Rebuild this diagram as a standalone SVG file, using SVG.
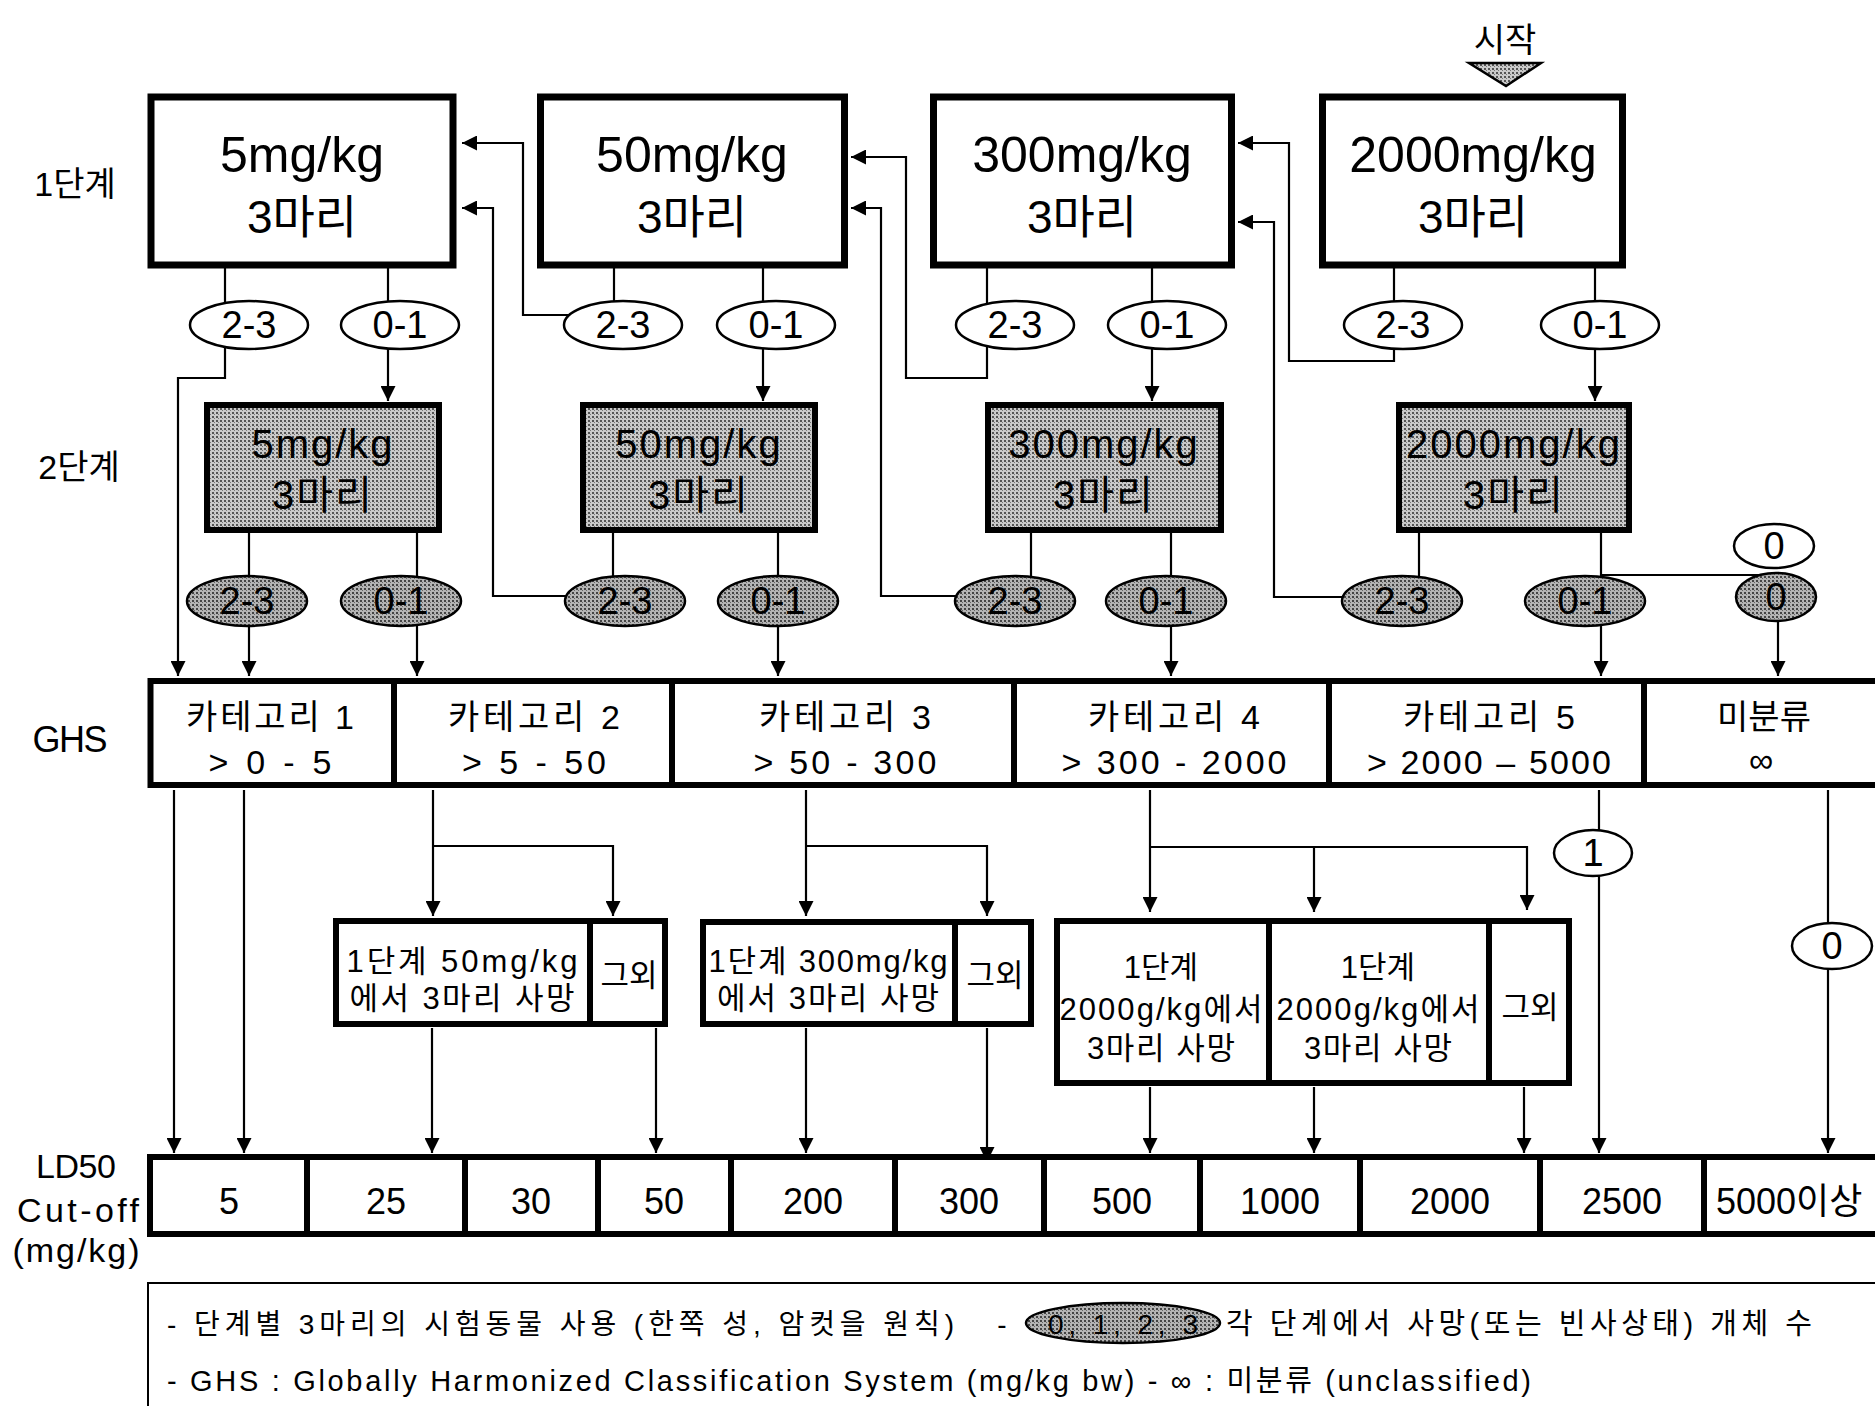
<svg xmlns="http://www.w3.org/2000/svg" width="1875" height="1406" viewBox="0 0 1875 1406">
<defs>
  <pattern id="stip" width="4" height="4" patternUnits="userSpaceOnUse">
    <rect width="4" height="4" fill="#cacaca"/>
    <rect x="0" y="0" width="2" height="2" fill="#555"/>
    <rect x="2" y="2" width="1" height="1" fill="#777"/>
  </pattern>
  <pattern id="stip2" width="4" height="4" patternUnits="userSpaceOnUse">
    <rect width="4" height="4" fill="#b4b4b4"/>
    <rect x="0" y="0" width="2" height="2" fill="#444"/>
    <rect x="2" y="2" width="1" height="1" fill="#666"/>
  </pattern>
  <marker id="ah" viewBox="0 0 10 10" refX="10" refY="5" markerWidth="15" markerHeight="15" markerUnits="userSpaceOnUse" orient="auto">
    <path d="M0,0 L10,5 L0,10 z" fill="#000"/>
  </marker>
</defs>
<style>
  text { font-family: "Liberation Sans", "Noto Sans CJK KR", sans-serif; fill: #000; }
  .ln { fill: none; stroke: #000; stroke-width: 2.2; }
  .arr { marker-end: url(#ah); }
  .b1 { fill: #fff; stroke: #000; stroke-width: 7; }
  .b2 { fill: url(#stip); stroke: #000; stroke-width: 6; }
  .bx { fill: #fff; stroke: #000; stroke-width: 6; }
  .dv { stroke: #000; stroke-width: 6; }
  .ew { fill: #fff; stroke: #000; stroke-width: 2.5; }
  .eg { fill: url(#stip2); stroke: #000; stroke-width: 2.5; }
  .m { text-anchor: middle; }
  .s1a { font-size: 50px; text-anchor: middle; }
  .s1b { font-size: 46px; text-anchor: middle; }
  .s2 { font-size: 40px; text-anchor: middle; letter-spacing: 2px; }
  .el { font-size: 38px; text-anchor: middle; }
  .gk { font-size: 34px; text-anchor: middle; }
  .gn { font-size: 34px; text-anchor: middle; }
  .ld { font-size: 36px; text-anchor: middle; }
  .mb { font-size: 31px; text-anchor: middle; }
  .lab { font-size: 34px; text-anchor: middle; }
  .lg { font-size: 28px; }
  .lg2 { font-size: 29px; }
</style>
<rect width="1875" height="1406" fill="#fff"/>

<g id="connectors">
  <path class="ln arr" d="M225,268 V378 H178 V676"/>
  <path class="ln arr" d="M388,268 V401"/>
  <path class="ln" d="M614,268 V320"/>
  <path class="ln arr" d="M575,315 H523 V143 H462"/>
  <path class="ln arr" d="M763,268 V401"/>
  <path class="ln arr" d="M987,268 V378 H906 V157 H851"/>
  <path class="ln arr" d="M1152,268 V401"/>
  <path class="ln arr" d="M1394,268 V361 H1289 V143 H1238"/>
  <path class="ln arr" d="M1595,268 V401"/>
  <path class="ln arr" d="M249,533 V676"/>
  <path class="ln arr" d="M417,533 V676"/>
  <path class="ln" d="M613,533 V590"/>
  <path class="ln arr" d="M570,596 H493 V208 H462"/>
  <path class="ln arr" d="M778,533 V676"/>
  <path class="ln" d="M1031,533 V590"/>
  <path class="ln arr" d="M960,596 H881 V208 H851"/>
  <path class="ln arr" d="M1171,533 V676"/>
  <path class="ln" d="M1419,533 V590"/>
  <path class="ln arr" d="M1348,597 H1274 V222 H1238"/>
  <path class="ln arr" d="M1601,533 V676"/>
  <path class="ln" d="M1601,575 H1772"/>
  <path class="ln arr" d="M1778,600 V676"/>
  <path class="ln arr" d="M174,790 V1153"/>
  <path class="ln arr" d="M244,790 V1153"/>
  <path class="ln arr" d="M433,790 V916"/>
  <path class="ln arr" d="M433,846 H613 V916"/>
  <path class="ln arr" d="M806,790 V916"/>
  <path class="ln arr" d="M806,846 H987 V916"/>
  <path class="ln arr" d="M1150,790 V912"/>
  <path class="ln arr" d="M1150,847 H1527 V910"/>
  <path class="ln arr" d="M1314,847 V912"/>
  <path class="ln arr" d="M1599,790 V1153"/>
  <path class="ln arr" d="M1828,790 V1153"/>
  <path class="ln arr" d="M432,1028 V1153"/>
  <path class="ln arr" d="M656,1028 V1153"/>
  <path class="ln arr" d="M806,1028 V1153"/>
  <path class="ln arr" d="M987,1028 V1162"/>
  <path class="ln arr" d="M1150,1087 V1153"/>
  <path class="ln arr" d="M1314,1087 V1153"/>
  <path class="ln arr" d="M1524,1087 V1153"/>
</g>

<g id="row-labels">
  <text class="lab" x="75" y="196">1단계</text>
  <text class="lab" x="79" y="479">2단계</text>
  <text class="m" x="70" y="752" font-size="36" textLength="75">GHS</text>
  <text class="m" x="76" y="1178" font-size="34" textLength="80">LD50</text>
  <text class="m" x="78" y="1222" font-size="34" textLength="122">Cut-off</text>
  <text class="m" x="76" y="1262" font-size="34" textLength="127">(mg/kg)</text>
</g>

<g id="start">
  <text class="lab" x="1505" y="52">시작</text>
  <path d="M1469,63 L1541,63 L1506,86 Z" fill="url(#stip)" stroke="#000" stroke-width="2.5"/>
</g>

<g id="s1-5">
  <rect class="b1" x="151" y="97" width="302" height="168"/>
  <text class="s1a" x="302" y="172">5mg/kg</text>
  <text class="s1b" x="302" y="233">3마리</text>
</g>
<g id="s1-50">
  <rect class="b1" x="540.5" y="97" width="304" height="168"/>
  <text class="s1a" x="692" y="172">50mg/kg</text>
  <text class="s1b" x="692" y="233">3마리</text>
</g>
<g id="s1-300">
  <rect class="b1" x="933.5" y="97" width="298" height="168"/>
  <text class="s1a" x="1082" y="172">300mg/kg</text>
  <text class="s1b" x="1082" y="233">3마리</text>
</g>
<g id="s1-2000">
  <rect class="b1" x="1322.5" y="97" width="300" height="168"/>
  <text class="s1a" x="1473" y="172">2000mg/kg</text>
  <text class="s1b" x="1473" y="233">3마리</text>
</g>

<g id="e1-5-23"><ellipse class="ew" cx="249" cy="325" rx="59" ry="24"/><text class="el" x="249" y="338">2-3</text></g>
<g id="e1-5-01"><ellipse class="ew" cx="400" cy="325" rx="59" ry="24"/><text class="el" x="400" y="338">0-1</text></g>
<g id="e1-50-23"><ellipse class="ew" cx="623" cy="325" rx="59" ry="24"/><text class="el" x="623" y="338">2-3</text></g>
<g id="e1-50-01"><ellipse class="ew" cx="776" cy="325" rx="59" ry="24"/><text class="el" x="776" y="338">0-1</text></g>
<g id="e1-300-23"><ellipse class="ew" cx="1015" cy="325" rx="59" ry="24"/><text class="el" x="1015" y="338">2-3</text></g>
<g id="e1-300-01"><ellipse class="ew" cx="1167" cy="325" rx="59" ry="24"/><text class="el" x="1167" y="338">0-1</text></g>
<g id="e1-2000-23"><ellipse class="ew" cx="1403" cy="325" rx="59" ry="24"/><text class="el" x="1403" y="338">2-3</text></g>
<g id="e1-2000-01"><ellipse class="ew" cx="1600" cy="325" rx="59" ry="24"/><text class="el" x="1600" y="338">0-1</text></g>

<g id="s2-5">
  <rect class="b2" x="207" y="405" width="232" height="125"/>
  <text class="s2" x="323" y="458">5mg/kg</text>
  <text class="s2" x="323" y="509">3마리</text>
</g>
<g id="s2-50">
  <rect class="b2" x="583" y="405" width="232" height="125"/>
  <text class="s2" x="699" y="458">50mg/kg</text>
  <text class="s2" x="699" y="509">3마리</text>
</g>
<g id="s2-300">
  <rect class="b2" x="988" y="405" width="233" height="125"/>
  <text class="s2" x="1104" y="458">300mg/kg</text>
  <text class="s2" x="1104" y="509">3마리</text>
</g>
<g id="s2-2000">
  <rect class="b2" x="1399" y="405" width="230" height="125"/>
  <text class="s2" x="1514" y="458">2000mg/kg</text>
  <text class="s2" x="1514" y="509">3마리</text>
</g>

<g id="e2-5-23"><ellipse class="eg" cx="247" cy="601" rx="60" ry="25"/><text class="el" x="247" y="614">2-3</text></g>
<g id="e2-5-01"><ellipse class="eg" cx="401" cy="601" rx="60" ry="25"/><text class="el" x="401" y="614">0-1</text></g>
<g id="e2-50-23"><ellipse class="eg" cx="625" cy="601" rx="60" ry="25"/><text class="el" x="625" y="614">2-3</text></g>
<g id="e2-50-01"><ellipse class="eg" cx="778" cy="601" rx="60" ry="25"/><text class="el" x="778" y="614">0-1</text></g>
<g id="e2-300-23"><ellipse class="eg" cx="1015" cy="601" rx="60" ry="25"/><text class="el" x="1015" y="614">2-3</text></g>
<g id="e2-300-01"><ellipse class="eg" cx="1166" cy="601" rx="60" ry="25"/><text class="el" x="1166" y="614">0-1</text></g>
<g id="e2-2000-23"><ellipse class="eg" cx="1402" cy="601" rx="60" ry="25"/><text class="el" x="1402" y="614">2-3</text></g>
<g id="e2-2000-01"><ellipse class="eg" cx="1585" cy="601" rx="60" ry="25"/><text class="el" x="1585" y="614">0-1</text></g>
<g id="e-0-white"><ellipse class="ew" cx="1774" cy="546" rx="40" ry="22"/><text class="el" x="1774" y="559">0</text></g>
<g id="e-0-gray"><ellipse class="eg" cx="1776" cy="597" rx="40" ry="24"/><text class="el" x="1776" y="610">0</text></g>

<g id="ghs">
  <rect class="bx" x="150.5" y="681" width="1740" height="104" stroke-width="7"/>
  <line class="dv" x1="394" y1="681" x2="394" y2="785"/>
  <line class="dv" x1="672" y1="681" x2="672" y2="785"/>
  <line class="dv" x1="1014" y1="681" x2="1014" y2="785"/>
  <line class="dv" x1="1329" y1="681" x2="1329" y2="785"/>
  <line class="dv" x1="1644" y1="681" x2="1644" y2="785"/>
  <text class="gk" x="270" y="729" textLength="168">카테고리 1</text>
  <text class="gn" x="270" y="774" textLength="123">&gt; 0 - 5</text>
  <text class="gk" x="534" y="729" textLength="172">카테고리 2</text>
  <text class="gn" x="534" y="774" textLength="144">&gt; 5 - 50</text>
  <text class="gk" x="845" y="729" textLength="172">카테고리 3</text>
  <text class="gn" x="845" y="774" textLength="183">&gt; 50 - 300</text>
  <text class="gk" x="1174" y="729" textLength="172">카테고리 4</text>
  <text class="gn" x="1174" y="774" textLength="225">&gt; 300 - 2000</text>
  <text class="gk" x="1489" y="729" textLength="172">카테고리 5</text>
  <text class="gn" x="1489" y="774" textLength="244">&gt; 2000 – 5000</text>
  <text class="gk" x="1764" y="729">미분류</text>
  <text class="gn" x="1761" y="772">∞</text>
</g>

<g id="e-cat5-1"><ellipse class="ew" cx="1593" cy="853" rx="39" ry="23"/><text class="el" x="1593" y="866">1</text></g>
<g id="e-uncl-0"><ellipse class="ew" cx="1832" cy="946" rx="40" ry="23"/><text class="el" x="1832" y="959">0</text></g>

<g id="mid-50">
  <rect class="bx" x="336" y="921" width="329" height="103"/>
  <line class="dv" x1="590" y1="921" x2="590" y2="1024"/>
  <text class="mb" x="462" y="972" textLength="231">1단계 50mg/kg</text>
  <text class="mb" x="462" y="1009" textLength="225">에서 3마리 사망</text>
  <text class="mb" x="629" y="986">그외</text>
</g>
<g id="mid-300">
  <rect class="bx" x="703" y="922" width="328" height="102"/>
  <line class="dv" x1="955" y1="922" x2="955" y2="1024"/>
  <text class="mb" x="828" y="972" textLength="239">1단계 300mg/kg</text>
  <text class="mb" x="828" y="1009" textLength="222">에서 3마리 사망</text>
  <text class="mb" x="995" y="986">그외</text>
</g>
<g id="mid-2000">
  <rect class="bx" x="1057" y="921" width="512" height="162"/>
  <line class="dv" x1="1269" y1="921" x2="1269" y2="1083"/>
  <line class="dv" x1="1489" y1="921" x2="1489" y2="1083"/>
  <text class="mb" x="1161" y="978">1단계</text>
  <text class="mb" x="1161" y="1020" textLength="203">2000g/kg에서</text>
  <text class="mb" x="1161" y="1059" textLength="148">3마리 사망</text>
  <text class="mb" x="1378" y="978">1단계</text>
  <text class="mb" x="1378" y="1020" textLength="203">2000g/kg에서</text>
  <text class="mb" x="1378" y="1059" textLength="148">3마리 사망</text>
  <text class="mb" x="1530" y="1018">그외</text>
</g>

<g id="ld50">
  <rect class="bx" x="150" y="1157" width="1740" height="77" stroke-width="7"/>
  <line class="dv" x1="307" y1="1157" x2="307" y2="1234"/>
  <line class="dv" x1="465" y1="1157" x2="465" y2="1234"/>
  <line class="dv" x1="598" y1="1157" x2="598" y2="1234"/>
  <line class="dv" x1="731" y1="1157" x2="731" y2="1234"/>
  <line class="dv" x1="895" y1="1157" x2="895" y2="1234"/>
  <line class="dv" x1="1044" y1="1157" x2="1044" y2="1234"/>
  <line class="dv" x1="1200" y1="1157" x2="1200" y2="1234"/>
  <line class="dv" x1="1360" y1="1157" x2="1360" y2="1234"/>
  <line class="dv" x1="1540" y1="1157" x2="1540" y2="1234"/>
  <line class="dv" x1="1704" y1="1157" x2="1704" y2="1234"/>
  <text class="ld" x="229" y="1214">5</text>
  <text class="ld" x="386" y="1214">25</text>
  <text class="ld" x="531" y="1214">30</text>
  <text class="ld" x="664" y="1214">50</text>
  <text class="ld" x="813" y="1214">200</text>
  <text class="ld" x="969" y="1214">300</text>
  <text class="ld" x="1122" y="1214">500</text>
  <text class="ld" x="1280" y="1214">1000</text>
  <text class="ld" x="1450" y="1214">2000</text>
  <text class="ld" x="1622" y="1214">2500</text>
  <text x="1716" y="1214" font-size="36">5000이상</text>
</g>

<g id="legend">
  <rect x="148" y="1283" width="1740" height="140" fill="none" stroke="#000" stroke-width="2"/>
  <text class="lg" x="167" y="1334" textLength="787">- 단계별 3마리의 시험동물 사용 (한쪽 성, 암컷을 원칙)</text>
  <text class="lg" x="1002" y="1334" text-anchor="middle">-</text>
  <ellipse class="eg" cx="1123" cy="1323" rx="97" ry="20"/>
  <text class="lg" x="1123" y="1334" text-anchor="middle" textLength="150">0, 1, 2, 3</text>
  <text class="lg2" x="1226" y="1334" textLength="586">각 단계에서 사망(또는 빈사상태) 개체 수</text>
  <text class="lg2" x="167" y="1391" textLength="1364">- GHS : Globally Harmonized Classification System (mg/kg bw)  - ∞ : 미분류 (unclassified)</text>
</g>
</svg>
